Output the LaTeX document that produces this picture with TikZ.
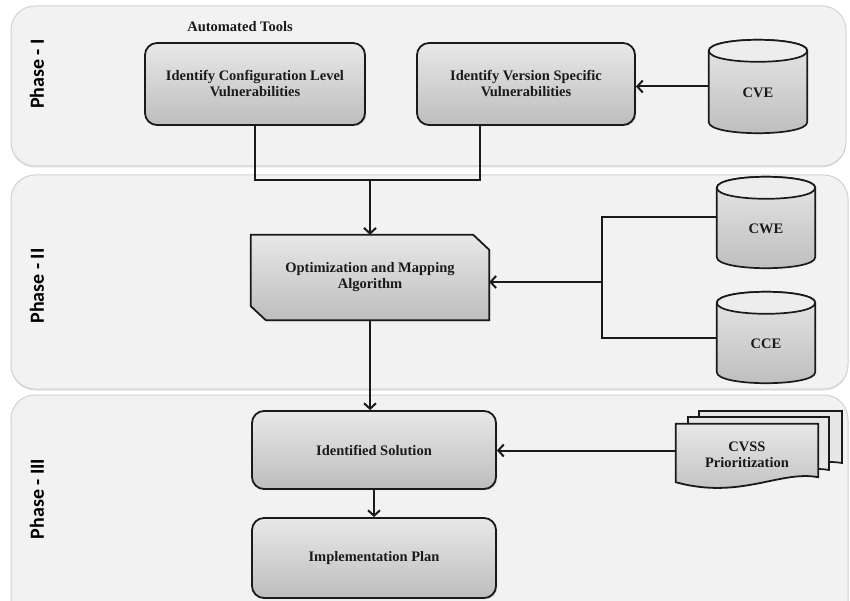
\documentclass[tikz,border=0pt]{standalone}
\usepackage{fontspec}
\setmainfont{Liberation Serif}
\newfontfamily\phasefont{Carlito}
\usetikzlibrary{arrows.meta,shadows,calc}
\definecolor{panelfill}{HTML}{F2F2F2}
\definecolor{panelline}{HTML}{D2D2D2}
\definecolor{boxtop}{HTML}{E8E8E8}
\definecolor{boxbot}{HTML}{BDBDBD}
\definecolor{pagefill}{HTML}{E6E6E6}
\definecolor{inkc}{HTML}{1A1A1A}
\newcommand\mycyl[6]{%
  \node[draw=none,minimum width=#4pt,minimum height=#5pt,inner sep=0pt] (#1) at (#2,#3) {};
  \path[cylbody] ([yshift=-11pt]#1.north west) -- ([yshift=11pt]#1.south west)
    .. controls ([yshift=-3.67pt]#1.south west) and ([yshift=-3.67pt]#1.south east) .. ([yshift=11pt]#1.south east)
    -- ([yshift=-11pt]#1.north east)
    .. controls ([yshift=3.67pt]#1.north east) and ([yshift=3.67pt]#1.north west) .. ([yshift=-11pt]#1.north west) -- cycle;
  \path[cyltop] ([yshift=-11pt]#1.north west)
    .. controls ([yshift=-25.67pt]#1.north west) and ([yshift=-25.67pt]#1.north east) .. ([yshift=-11pt]#1.north east)
    .. controls ([yshift=3.67pt]#1.north east) and ([yshift=3.67pt]#1.north west) .. ([yshift=-11pt]#1.north west) -- cycle;
  \node[boxtext] (#1-t) at ([yshift=-6pt]#1.center) {#6};
}
\begin{document}
\begin{tikzpicture}[x=1pt,y=-1pt,
  panel/.style={fill=panelfill,draw=panelline,line width=1pt,rounded corners=24pt,
    drop shadow={shadow xshift=0pt,shadow yshift=-1.5pt,opacity=0.25}},
  phaselbl/.style={font=\phasefont\bfseries\fontsize{20}{22}\selectfont,rotate=90,text=black},
  boxtext/.style={font=\bfseries\fontsize{14.5}{16}\selectfont,text=inkc,align=center},
  rbox/.style={boxtext,draw=inkc,line width=1.8pt,rounded corners=12pt,top color=boxtop,bottom color=boxbot,
    drop shadow={shadow xshift=1.2pt,shadow yshift=-1.2pt,opacity=0.35}},
  shapefill/.style={draw=inkc,line width=1.8pt,top color=boxtop,bottom color=boxbot},
  cylbody/.style={draw=inkc,line width=1.7pt,top color=boxtop,bottom color=boxbot},
  cyltop/.style={draw=inkc,line width=1.7pt,fill=boxtop!80!white},
  pagestyle/.style={draw=inkc,line width=1.7pt,fill=pagefill},
  conn/.style={draw=inkc,line width=2pt},
  arr/.style={conn,-{Straight Barb[length=5.5pt,width=12pt]}}
]
\useasboundingbox (0,0) rectangle (850,601);
% panels
\path[panel] (11,6) rectangle (846,166);
\path[panel] (11,175) rectangle (848,389);
\path[panel] (11,395) rectangle (848,630);
\node[phaselbl] (p1) at (37,74) {Phase - I};
\node[phaselbl] (p2) at (37,286) {Phase - II};
\node[phaselbl] (p3) at (37,499) {Phase - III};
% phase I
\node[boxtext] (auto) at (240,27) {Automated Tools};
\node[rbox,minimum width=220pt,minimum height=82pt] (box1) at (255,84) {Identify Configuration Level\\Vulnerabilities};
\node[rbox,minimum width=218pt,minimum height=82pt] (box2) at (526,84) {Identify Version Specific\\Vulnerabilities};
\mycyl{cve}{758}{86.5}{98}{93}{CVE}
% phase II
\node[draw=none,minimum width=238pt,minimum height=85pt,inner sep=0pt] (opt) at (370,277.5) {};
\path[shapefill,drop shadow={shadow xshift=1.2pt,shadow yshift=-1.2pt,opacity=0.35}]
  (opt.north west) -- ($(opt.north east)+(-16,0)$) -- ($(opt.north east)+(0,15)$)
  -- (opt.south east) -- ($(opt.south west)+(15,0)$) -- ($(opt.south west)+(0,-14)$) -- cycle;
\node[boxtext] (opt-t) at (opt.center) {Optimization and Mapping\\Algorithm};
\mycyl{cwe}{766}{222.5}{98}{91}{CWE}
\mycyl{cce}{766}{337.5}{98}{91}{CCE}
% phase III
\node[rbox,minimum width=244pt,minimum height=78pt] (idsol) at (374,450) {Identified Solution};
\node[rbox,minimum width=244pt,minimum height=80pt] (impl) at (374,558) {Implementation Plan};
\node[draw=none,minimum width=142pt,minimum height=53pt,inner sep=0pt] (cvssf) at (747,450.5) {};
\path[pagestyle] (699,411) -- (842,411) -- (842,463) .. controls (800,456) and (770,488) .. (699,470) -- cycle;
\path[pagestyle] (688,417) -- (829,417) -- (829,470) .. controls (790,463) and (755,495) .. (688,476) -- cycle;
\path[shapefill] (cvssf.north west) -- (cvssf.north east) -- ($(cvssf.south east)+(0,0)$)
  .. controls (780,470) and (740,500) .. ($(cvssf.south west)+(0,5)$) -- cycle;
\node[boxtext] (cvss) at (747,455) {CVSS\\Prioritization};
% connectors
\coordinate (mjoin) at (370,180);
\coordinate (b2s) at ($(box2.south west)+(64,0)$);
\draw[conn] (box1.south) |- (mjoin) -| (b2s);
\draw[arr] (mjoin) -- (opt.north);
\draw[arr] (cve.west) -- (cve.west -| box2.east);
\coordinate (bus) at (602,282);
\draw[conn] ($(cwe.west)+(0,-5)$) -| (bus);
\draw[conn] (cce.west) -| (bus);
\draw[arr] (bus) -- (bus -| opt.east);
\draw[arr] (opt.south) -- (opt.south |- idsol.north);
\draw[arr] (idsol.south) -- (impl.north);
\draw[arr] (cvssf.west) -- (cvssf.west -| idsol.east);
\end{tikzpicture}
\end{document}
